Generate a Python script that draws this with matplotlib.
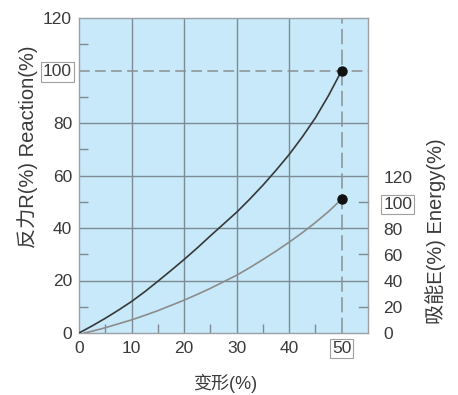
import matplotlib.pyplot as plt
from matplotlib.ticker import FixedLocator

plt.rcParams['font.family'] = ['Liberation Sans', 'Noto Sans CJK SC', 'DejaVu Sans']

# deformation (%) vs reaction force R (%) and absorbed energy E (drawn on left scale)
deform_r = [0, 2.5, 5, 7.5, 10, 12.5, 15, 17.5, 20, 22.5, 25, 27.5, 30,
            32.5, 35, 37.5, 40, 42.5, 45, 47.5, 50]
reaction = [0, 2.7, 5.6, 8.7, 12, 15.7, 19.7, 23.8, 28, 32.4, 37, 41.5, 46,
            51, 56.3, 62, 68, 74.7, 82, 90.5, 100]
deform_e = [1, 2.5, 5, 7.5, 10, 12.5, 15, 17.5, 20, 22.5, 25, 27.5, 30,
            32.5, 35, 37.5, 40, 42.5, 45, 47.5, 50]
energy = [0, 0.7, 2, 3.5, 5, 6.7, 8.5, 10.5, 12.5, 14.7, 17, 19.5, 22,
          24.9, 28, 31.2, 34.6, 38.2, 42.1, 46.3, 51]

x_ticks = [0, 10, 20, 30, 40, 50]
y_ticks = [0, 20, 40, 60, 80, 100, 120]
e_ticks = [0, 20, 40, 60, 80, 100, 120]

bg = '#c8e9f9'
grid_c = '#7d8b94'
txt = '#3a3a3a'

fig = plt.figure(figsize=(4.58, 3.95), dpi=100)
ax = fig.add_axes([79/458, 62/395, 289/458, 315/395])
ax.set_facecolor(bg)
ax.set_xlim(0, 55)
ax.set_ylim(0, 120)

# grid
for gx in [10, 20, 30, 40]:
    ax.axvline(gx, color=grid_c, lw=1.0, zorder=1)
for gy in [20, 40, 60, 80]:
    ax.axhline(gy, color=grid_c, lw=1.0, zorder=1)
ax.axhline(100, color='#8a8f93', lw=1.1, dashes=(7, 3.5), zorder=1)
ax.axvline(50, color='#8a8f93', lw=1.1, dashes=(10, 3.5), zorder=1)

ax.plot(deform_r, reaction, color='#383838', lw=1.2, zorder=3)
ax.plot(deform_e, energy, color='#8c8c8c', lw=1.2, zorder=3)
ax.plot([deform_r[-1]], [reaction[-1]], 'o', color='#111111', ms=6.5, zorder=4)
ax.plot([deform_e[-1]], [energy[-1]], 'o', color='#111111', ms=6.5, zorder=4)

for s in ax.spines.values():
    s.set_color('#9aa0a4')
    s.set_linewidth(1.0)

ax.set_xticks(x_ticks)
ax.set_yticks(y_ticks)
ax.xaxis.set_minor_locator(FixedLocator([5, 15, 25, 35, 45]))
ax.yaxis.set_minor_locator(FixedLocator([10, 30, 50, 70, 90, 110]))
ax.tick_params(axis='both', which='major', length=0, labelsize=12.5, labelcolor=txt)
ax.tick_params(axis='x', which='major', pad=6)
ax.tick_params(axis='y', which='major', pad=5)
ax.tick_params(axis='both', which='minor', direction='in', length=6.5,
               width=1.0, color=grid_c)

# inner ticks on right edge
for ry in [10, 30, 50]:
    ax.plot([53.3, 55], [ry, ry], color=grid_c, lw=1.0, clip_on=False, zorder=2)

box = dict(facecolor='none', edgecolor='#a0a0a0', linewidth=0.8, pad=1.5)
for lab in ax.get_yticklabels():
    if lab.get_text() == '100':
        lab.set_bbox(box)
for lab in ax.get_xticklabels():
    if lab.get_text() == '50':
        lab.set_bbox(box)

# right scale for energy
ax2 = ax.twinx()
ax2.set_ylim(2.7, 242.7)
ax2.set_yticks(e_ticks)
ax2.tick_params(axis='y', length=0, pad=11, labelsize=12.5, labelcolor=txt)
for s in ax2.spines.values():
    s.set_visible(False)
for lab in ax2.get_yticklabels():
    if lab.get_text() == '100':
        lab.set_bbox(box)

fig.text(28/458, 1 - 147/395, '反力R(%) Reaction(%)', rotation=90, ha='center',
         va='center', fontsize=14.5, color=txt)
fig.text(436/458, 1 - 231/395, '吸能E(%) Energy(%)', rotation=90, ha='center',
         va='center', fontsize=14.5, color=txt)
fig.text(225/458, 1 - 383/395, '变形(%)', ha='center', va='center',
         fontsize=13, color=txt)

fig.savefig('out.png', dpi=100)
